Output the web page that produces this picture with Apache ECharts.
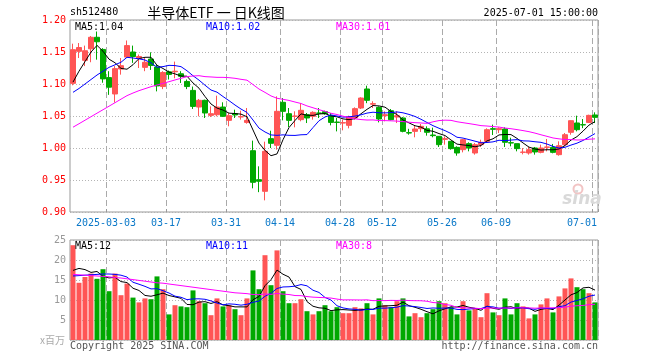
<!DOCTYPE html>
<html><head><meta charset="utf-8">
<script src="https://cdn.jsdelivr.net/npm/echarts@6/dist/echarts.min.js"></script>
<style>html,body{margin:0;padding:0;background:#fff}#c{width:660px;height:360px}</style>
</head><body><div id="c"></div>
<script>
const dates = [
'2025-02-21','2025-02-24','2025-02-25','2025-02-26','2025-02-27','2025-02-28',
'2025-03-03','2025-03-04','2025-03-05','2025-03-06','2025-03-07','2025-03-10','2025-03-11','2025-03-12','2025-03-13','2025-03-14',
'2025-03-17','2025-03-18','2025-03-19','2025-03-20','2025-03-21','2025-03-24','2025-03-25','2025-03-26','2025-03-27','2025-03-28',
'2025-03-31','2025-04-01','2025-04-02','2025-04-03','2025-04-07','2025-04-08','2025-04-09','2025-04-10','2025-04-11',
'2025-04-14','2025-04-15','2025-04-16','2025-04-17','2025-04-18','2025-04-21','2025-04-22','2025-04-23','2025-04-24','2025-04-25',
'2025-04-28','2025-04-29','2025-04-30','2025-05-06','2025-05-07','2025-05-08','2025-05-09',
'2025-05-12','2025-05-13','2025-05-14','2025-05-15','2025-05-16','2025-05-19','2025-05-20','2025-05-21','2025-05-22','2025-05-23',
'2025-05-26','2025-05-27','2025-05-28','2025-05-29','2025-05-30','2025-06-03','2025-06-04','2025-06-05','2025-06-06',
'2025-06-09','2025-06-10','2025-06-11','2025-06-12','2025-06-13','2025-06-16','2025-06-17','2025-06-18','2025-06-19','2025-06-20',
'2025-06-23','2025-06-24','2025-06-25','2025-06-26','2025-06-27','2025-06-30','2025-07-01'];

const opens = [1.101,1.151,1.137,1.155,1.173,1.154,1.110,1.0844,1.1234,1.142,
1.150,1.140,1.126,1.139,1.1266,1.096,1.119,1.119,1.116,1.104,
1.090,1.064,1.0745,1.051,1.052,1.064,1.0432,1.0536,1.0485,1.040,
0.9958,0.9505,0.9323,1.0146,1.0042,1.0714,1.0536,1.0495,1.0443,1.052,
1.0495,1.0547,1.0568,1.0505,1.0405,1.039,1.0354,1.0469,1.0625,1.0922,
1.0685,1.0635,1.0505,1.0583,1.0484,1.0469,1.024,1.026,1.0302,1.030,
1.0203,1.0182,1.0135,1.0104,1.001,0.9974,1.0068,0.9922,1.0052,1.0104,
1.0302,1.0286,1.0297,1.0083,1.0068,0.9932,0.9922,1.0,0.9932,1.001,
1.001,0.9896,1.0052,1.0245,1.0391,1.0365,1.040,1.0516];
const closes = [1.1536,1.157,1.152,1.173,1.166,1.108,1.095,1.124,1.1286,1.160,
1.143,1.143,1.134,1.129,1.097,1.118,1.115,1.120,1.112,1.096,
1.065,1.0745,1.0547,1.0536,1.064,1.0495,1.0505,1.0516,1.049,1.0432,
0.9464,0.948,0.9948,1.0073,1.0573,1.0573,1.0432,1.050,1.0589,1.0469,
1.0557,1.0542,1.0536,1.040,1.040,1.0396,1.0484,1.0615,1.0781,1.0745,
1.0693,1.0453,1.052,1.0443,1.0505,1.026,1.0234,1.0297,1.0339,1.0245,
1.0193,1.0052,1.0146,0.999,0.9922,1.013,1.0,1.0052,1.0089,1.0286,
1.0292,1.0302,1.0089,1.0078,0.999,0.9937,0.9974,0.9938,1.0,1.0016,
0.9932,1.0036,1.0208,1.0427,1.0286,1.036,1.051,1.0479];
const lows = [1.098,1.1406,1.128,1.134,1.138,1.102,1.083,1.071,1.1146,1.141,
1.133,1.125,1.120,1.122,1.0885,1.092,1.107,1.109,1.1016,1.092,
1.061,1.0495,1.0469,1.0484,1.0495,1.0484,1.0339,1.0469,1.0443,1.038,
0.937,0.931,0.9182,1.0,0.9974,1.0432,1.0328,1.0323,1.0417,1.039,
1.0443,1.0469,1.052,1.0354,1.026,1.0276,1.0307,1.0443,1.0609,1.070,
1.0625,1.040,1.0417,1.0432,1.039,1.0245,1.0208,1.0167,1.025,1.0193,
1.0167,1.0016,1.0052,0.9974,0.988,0.9932,0.9948,0.9896,1.0016,1.0078,
1.0203,1.0234,1.0016,1.0026,0.9948,0.9901,0.9896,0.9896,0.9917,0.9948,
0.9917,0.988,1.0026,1.0208,1.026,1.031,1.039,1.039];
const highs = [1.163,1.164,1.160,1.175,1.182,1.156,1.120,1.128,1.1406,1.168,
1.160,1.146,1.141,1.1495,1.130,1.120,1.121,1.135,1.120,1.107,
1.096,1.0766,1.0755,1.065,1.0818,1.0714,1.0547,1.0599,1.0583,1.0625,
1.0115,0.9714,1.0099,1.027,1.0807,1.078,1.0625,1.0573,1.0703,1.0547,
1.0573,1.0625,1.0583,1.0547,1.0469,1.0443,1.0505,1.0635,1.0792,1.0974,
1.073,1.065,1.0573,1.0609,1.0573,1.0484,1.030,1.0349,1.0375,1.0339,
1.0318,1.0182,1.0182,1.0104,1.0026,1.0141,1.0089,1.0078,1.013,1.0307,
1.0365,1.0323,1.0323,1.0161,1.0068,1.0,1.0016,1.0016,1.0052,1.0141,
1.0063,1.0104,1.0234,1.0432,1.0505,1.0453,1.052,1.0557];
const volumes = [23.7,14.3,15.75,16.6,15.3,17.7,12.2,16.6,11.2,14.1,
10.6,9.4,10.4,10.2,15.9,12.7,6.4,8.7,8.4,8.2,
12.4,9.7,9.2,6.2,10.4,8.4,8.7,7.7,6.2,10.4,
17.4,12.7,21.2,13.7,22.4,12.2,9.2,9.2,10.2,7.2,
6.4,7.2,8.7,7.2,8.2,6.7,6.7,8.2,7.9,9.2,
6.4,10.4,8.7,8.2,9.7,10.4,5.9,6.7,5.7,6.7,
7.7,9.7,9.2,8.2,6.4,9.7,7.4,7.9,5.7,11.7,
6.9,6.2,10.4,6.4,9.2,8.4,5.4,6.4,8.9,10.4,
6.9,10.9,12.9,15.4,13.2,12.7,11.7,9.4];

// moving-average values before a full window is available
const priceMa5Head = [1.103,1.120,1.135,1.150];
const priceMa10Head = [1.087,1.093,1.100,1.107,1.114,1.120,1.126,1.130,1.134];
const priceMa30Head = [1.0325,1.0379,1.0434,1.0489,1.0544,1.0598,1.0653,1.0708,1.0763,1.0818,
1.0859,1.0896,1.0927,1.0958,1.0984,1.1010,1.1036,1.1063,1.1089,1.1115,
1.1125,1.1130,1.1115,1.1110,1.1104,1.1104,1.1099,1.1089,1.1073];
const volMa5Head = [17.4,17.9,17.6,16.9];
const volMa10Head = [16.0,16.1,16.2,16.3,16.4,16.5,16.5,16.4,16.2];
const volMa30Head = [16.4,16.3,16.2,16.1,16.0,15.9,15.8,15.6,15.5,15.3,
15.1,14.9,14.7,14.5,14.3,14.2,14.0,13.8,13.6,13.4,
13.2,13.0,12.8,12.6,12.4,12.2,12.0,11.8,11.7];

const tickDates = ['2025-03-03','2025-03-17','2025-03-31','2025-04-14','2025-04-28','2025-05-12','2025-05-26','2025-06-09','2025-07-01'];
const tickLabels = ['2025-03-03','03-17','03-31','04-14','04-28','05-12','05-26','06-09','07-01'];

const UP = '#ff5555', DOWN = '#00a800';
const MONO = '"DejaVu Sans Mono", "Liberation Mono", monospace';

function movingAvg(vals, n, head) {
  return vals.map((v, i) => {
    if (i < n - 1) return head[i];
    let s = 0; for (let k = i - n + 1; k <= i; k++) s += vals[k];
    return s / n;
  });
}
const pMa5 = movingAvg(closes, 5, priceMa5Head);
const pMa10 = movingAvg(closes, 10, priceMa10Head);
const pMa30 = movingAvg(closes, 30, priceMa30Head);
const vMa5 = movingAvg(volumes, 5, volMa5Head);
const vMa10 = movingAvg(volumes, 10, volMa10Head);
const vMa30 = movingAvg(volumes, 30, volMa30Head);
const last = a => a[a.length - 1];
const trunc2 = v => (Math.floor(v * 100 + 1e-9) / 100).toFixed(2);

const tickIdx = tickDates.map(d => dates.indexOf(d));
const isTick = (i) => tickIdx.indexOf(i) >= 0;

const candleData = dates.map((d, i) => [opens[i], closes[i], lows[i], highs[i]]);
const volData = volumes.map((v, i) => ({ value: v, itemStyle: { color: closes[i] >= opens[i] ? UP : DOWN } }));

const vDash = { show: true, interval: (i) => isTick(i), lineStyle: { color: '#aaaaaa', width: 1, type: [6, 3] } };
const hDot = { show: true, lineStyle: { color: '#b4b4b4', width: 1, type: [1, 2] } };

const chart = echarts.init(document.getElementById('c'), null, { renderer: 'canvas' });
const lineS = (name, data, color, xi, yi) => ({ name, type: 'line', data, xAxisIndex: xi, yAxisIndex: yi, showSymbol: false, symbol: 'none', smooth: false, lineStyle: { color, width: 1 }, silent: true, z: 5 });

function txt(x, y, text, fill, font, align, valign) {
  return { type: 'text', x, y, silent: true, z: 100, style: { text, fill, font, align: align || 'left', verticalAlign: valign || 'middle', textAlign: align || 'left', textVerticalAlign: valign || 'middle' } };
}

chart.setOption({
  animation: false,
  backgroundColor: '#fff',
  grid: [
    { left: 70, top: 20, width: 528, height: 192, show: true, borderColor: '#999', borderWidth: 1, backgroundColor: 'transparent' },
    { left: 70, top: 240, width: 528, height: 100, show: true, borderColor: '#999', borderWidth: 1, backgroundColor: 'transparent' }
  ],
  xAxis: [
    { type: 'category', gridIndex: 0, data: dates, boundaryGap: true,
      axisLine: { show: false },
      axisTick: { show: true, inside: true, length: 3, interval: (i) => isTick(i), lineStyle: { color: '#999' } },
      axisLabel: { interval: (i) => isTick(i), color: '#0a78c8', fontFamily: MONO, fontSize: 10, margin: 6,
        formatter: (v, i) => { const k = tickDates.indexOf(v); if (k < 0) return ''; return (k === tickDates.length - 1 ? '{e|' : '{a|') + tickLabels[k] + '}'; },
        rich: { a: { padding: [0, 6, 0, 0], color: '#0a78c8', fontFamily: MONO, fontSize: 10 }, e: { padding: [0, 26, 0, 0], color: '#0a78c8', fontFamily: MONO, fontSize: 10 } } },
      splitLine: vDash },
    { type: 'category', gridIndex: 1, data: dates, boundaryGap: true,
      axisLine: { show: false }, axisTick: { show: false }, axisLabel: { show: false },
      splitLine: vDash }
  ],
  yAxis: [
    { type: 'value', gridIndex: 0, min: 0.90, max: 1.20, interval: 0.05, scale: true,
      axisLine: { show: false }, axisTick: { show: false },
      axisLabel: { color: '#ff0000', fontFamily: MONO, fontSize: 10, margin: 4, formatter: v => v.toFixed(2) },
      splitLine: hDot },
    { type: 'value', gridIndex: 1, min: 0, max: 25, interval: 5,
      axisLine: { show: false }, axisTick: { show: false },
      axisLabel: { color: '#999', fontFamily: MONO, fontSize: 10, margin: 4, showMinLabel: false },
      splitLine: hDot }
  ],
  series: [
    { type: 'candlestick', xAxisIndex: 0, yAxisIndex: 0, data: candleData, barWidth: 5,
      itemStyle: { color: UP, color0: DOWN, borderColor: UP, borderColor0: DOWN, borderWidth: 1 }, z: 3 },
    lineS('MA5', pMa5, '#000000', 0, 0),
    lineS('MA10', pMa10, '#0000ff', 0, 0),
    lineS('MA30', pMa30, '#ff00ff', 0, 0),
    { type: 'bar', xAxisIndex: 1, yAxisIndex: 1, data: volData, barWidth: 5, z: 3 },
    lineS('VMA5', vMa5, '#000000', 1, 1),
    lineS('VMA10', vMa10, '#0000ff', 1, 1),
    lineS('VMA30', vMa30, '#ff00ff', 1, 1)
  ],
  graphic: [
    txt(70, 12, 'sh512480', '#000', '10px ' + MONO),
    txt(216, 13, '半导体ETF 一 日K线图', '#000', '14px "Noto Sans CJK SC"', 'center'),
    txt(598, 13, last(dates) + ' 15:00:00', '#000', '10px ' + MONO, 'right'),
    txt(75, 27, 'MA5:' + trunc2(last(pMa5)), '#000', '10px ' + MONO),
    txt(206, 27, 'MA10:' + trunc2(last(pMa10)), '#0000ff', '10px ' + MONO),
    txt(336, 27, 'MA30:' + trunc2(last(pMa30)), '#ff00ff', '10px ' + MONO),
    txt(75, 246, 'MA5:' + Math.floor(last(vMa5)), '#000', '10px ' + MONO),
    txt(206, 246, 'MA10:' + Math.floor(last(vMa10)), '#0000ff', '10px ' + MONO),
    txt(336, 246, 'MA30:' + Math.floor(last(vMa30)), '#ff00ff', '10px ' + MONO),
    txt(65, 340, 'x百万', '#aaa', '10px "Noto Sans CJK SC"', 'right'),
    txt(70, 346, 'Copyright 2025 SINA.COM', '#555', '10px ' + MONO),
    txt(598, 346, 'http://finance.sina.com.cn', '#555', '10px ' + MONO, 'right'),
    { type: 'circle', shape: { cx: 578, cy: 189, r: 4.5 }, style: { fill: 'none', stroke: '#f2c4c4', lineWidth: 2 }, silent: true, z: 1 },
    txt(582, 200, 'sina', '#d9d9d9', 'italic bold 17px "DejaVu Sans"', 'center')
  ]
});
</script>
</body></html>
